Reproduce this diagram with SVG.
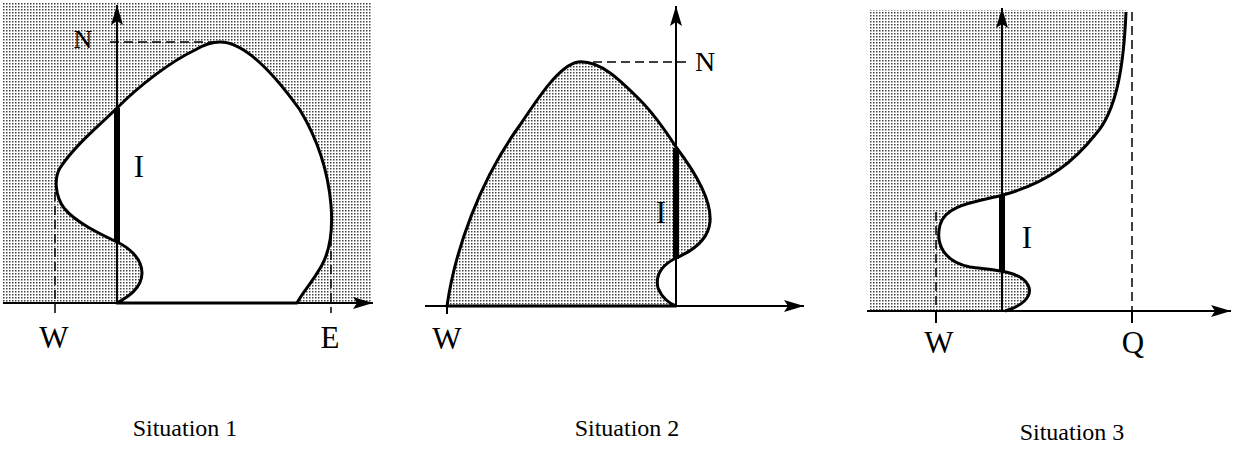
<svg xmlns="http://www.w3.org/2000/svg" width="1240" height="452" viewBox="0 0 1240 452">
<style>
.axis{stroke:#000;stroke-width:2;fill:none}
.curve{stroke:#000;stroke-width:3;stroke-linejoin:round}
.thick{stroke:#000;stroke-width:6;fill:none}
.dash{stroke:#000;stroke-width:1.5;stroke-dasharray:9 5;fill:none}
.tick{stroke:#000;stroke-width:2}
.lbl{font-family:"Liberation Serif","Times New Roman",serif;font-size:31px;fill:#000;text-anchor:middle}
.cap{font-family:"Liberation Serif","Times New Roman",serif;font-size:24px;fill:#000;text-anchor:middle}
</style>
<defs>
<pattern id="dots" width="3" height="3" patternUnits="userSpaceOnUse">
<rect width="3" height="3" fill="#fff"/>
<rect x="0" y="0" width="1.5" height="1.5" fill="#444"/>
</pattern>
<marker id="ah" viewBox="0 0 20 12" refX="20" refY="6" markerWidth="20" markerHeight="12" markerUnits="userSpaceOnUse" orient="auto">
<path d="M0,0 L20,6 L0,12 L4,6 Z" fill="#000"/>
</marker>
</defs>

<g id="situation1">
<rect x="3" y="2" width="369" height="301" fill="url(#dots)"/>
<path class="curve" fill="#fff" d="M117,303 C128,297 142,288 142,273 C142,258 128,247 117,242 C100,234 75,222 64,208 C55,196 54,178 60,168 C75,145 100,125 117,108 C140,85 170,62 195,50 C205,44 212,42 220,42 C245,42 275,75 300,110 C318,140 328,170 331,205 C333,230 330,250 322,265 C312,283 302,293 297,303 Z"/>
<line class="dash" x1="110" y1="42" x2="215" y2="42"/>
<line class="dash" x1="55" y1="192" x2="55" y2="313" stroke-dasharray="7 3"/>
<line class="dash" x1="331" y1="237" x2="331" y2="313" stroke-dasharray="7 3"/>
<line class="axis" x1="3" y1="303" x2="373" y2="303" marker-end="url(#ah)"/>
<line class="axis" x1="117" y1="303" x2="117" y2="5" marker-end="url(#ah)"/>
<line class="thick" x1="117" y1="108" x2="117" y2="242"/>
<text class="lbl" x="83" y="48" style="font-size:26px">N</text>
<text class="lbl" x="139" y="177">I</text>
<text class="lbl" x="54" y="348">W</text>
<text class="lbl" x="330" y="348">E</text>
<text class="cap" x="185" y="436">Situation 1</text>
</g>

<g id="situation2">
<path class="curve" fill="url(#dots)" d="M447,306 C455,250 480,180 520,125 C540,95 560,65 578,62 C600,60 620,80 640,100 C655,115 665,130 676,147 C695,172 712,200 710,222 C708,242 690,252 676,258 C662,265 655,275 658,288 C662,298 670,304 676,306 Z"/>
<line class="dash" x1="593" y1="62" x2="688" y2="62"/>
<line class="tick" x1="447" y1="306" x2="447" y2="314"/>
<line class="axis" x1="425" y1="306" x2="804" y2="306" marker-end="url(#ah)"/>
<line class="axis" x1="676" y1="306" x2="676" y2="6" marker-end="url(#ah)"/>
<line class="thick" x1="676" y1="148" x2="676" y2="259"/>
<text class="lbl" x="705" y="71" style="font-size:28px">N</text>
<text class="lbl" x="661" y="223">I</text>
<text class="lbl" x="447" y="349">W</text>
<text class="cap" x="627" y="436">Situation 2</text>
</g>

<g id="situation3">
<path fill="url(#dots)" d="M1126,10 C1124,60 1118,110 1095,135 C1075,160 1050,182 1003,195 C975,202 945,205 940,225 C935,245 945,262 970,267 C990,270 1020,270 1028,285 C1034,297 1020,307 1005,311 L870,311 L870,10 Z"/>
<path class="curve" fill="none" d="M1126,12 C1124,60 1118,110 1095,135 C1075,160 1050,182 1003,195 C975,202 945,205 940,225 C935,245 945,262 970,267 C990,270 1020,270 1028,285 C1034,297 1020,307 1005,311"/>
<line class="dash" x1="1132" y1="12" x2="1132" y2="311" stroke-dasharray="12 6"/>
<line class="dash" x1="936" y1="212" x2="936" y2="311" stroke-dasharray="7 3"/>
<line class="tick" x1="936" y1="311" x2="936" y2="323"/>
<line class="tick" x1="1132" y1="311" x2="1132" y2="323"/>
<line class="axis" x1="867" y1="311" x2="1231" y2="311" marker-end="url(#ah)"/>
<line class="axis" x1="1002" y1="311" x2="1002" y2="8" marker-end="url(#ah)"/>
<line class="thick" x1="1002" y1="195" x2="1002" y2="272"/>
<text class="lbl" x="1027" y="248">I</text>
<text class="lbl" x="939" y="353">W</text>
<text class="lbl" x="1133" y="353">Q</text>
<text class="cap" x="1072" y="440">Situation 3</text>
</g>
</svg>
